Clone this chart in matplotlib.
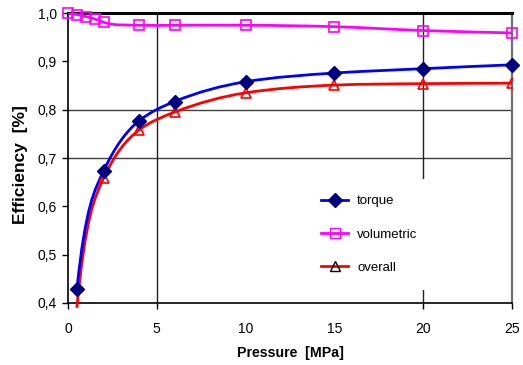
import numpy as np
import matplotlib
matplotlib.use('Agg')
import matplotlib.pyplot as plt
from matplotlib.path import Path
from matplotlib.patches import PathPatch
from matplotlib.lines import Line2D

plt.rcParams['font.family'] = ['Liberation Sans', 'DejaVu Sans']

# data
p_torque = [0.5, 2, 4, 6, 10, 15, 20, 25]
torque = [0.428, 0.673, 0.777, 0.817, 0.858, 0.876, 0.885, 0.893]

p_vol = [0, 0.5, 1, 1.5, 2, 4, 6, 10, 15, 20, 25]
volumetric = [1.0, 0.997, 0.993, 0.988, 0.981, 0.975, 0.975, 0.975, 0.972, 0.964, 0.959]

p_overall = [0.5, 2, 4, 6, 10, 15, 20, 25]
overall = [0.39, 0.658, 0.758, 0.795, 0.835, 0.851, 0.854, 0.855]

xticks = [0, 5, 10, 15, 20, 25]
yticks = [0.4, 0.5, 0.6, 0.7, 0.8, 0.9, 1.0]
ytick_labels = ['0,4', '0,5', '0,6', '0,7', '0,8', '0,9', '1,0']


def smooth_path(xs, ys, logx=True):
    # smoothed line drawn as cubic bezier (hermite) segments through the points
    xs = np.asarray(xs, float)
    ys = np.asarray(ys, float)
    if logx:
        m = np.gradient(ys, np.log(xs)) / xs
    else:
        m = np.gradient(ys, xs)
    verts = [(xs[0], ys[0])]
    codes = [Path.MOVETO]
    for i in range(len(xs) - 1):
        h = xs[i + 1] - xs[i]
        verts += [(xs[i] + h / 3, ys[i] + m[i] * h / 3),
                  (xs[i + 1] - h / 3, ys[i + 1] - m[i + 1] * h / 3),
                  (xs[i + 1], ys[i + 1])]
        codes += [Path.CURVE4] * 3
    return Path(verts, codes)


fig = plt.figure(figsize=(5.23, 3.65), dpi=100)
ax = fig.add_axes([0.130, 0.170, 0.849, 0.794])

ax.set_xlim(0, 25)
ax.set_ylim(0.4, 1.0)

# grid pieces like the original
ax.axhline(0.7, color='#404040', lw=1.0, zorder=1)
ax.axhline(0.8, color='#404040', lw=1.0, zorder=1)
ax.axvline(5, color='#202020', lw=1.0, zorder=1)
ax.axvline(20, color='#202020', lw=1.0, zorder=1)

ax.add_patch(PathPatch(smooth_path(p_vol, volumetric, logx=False), fc='none', ec='#ff00ff', lw=2.0, zorder=3))
ax.add_patch(PathPatch(smooth_path(p_overall, overall), fc='none', ec='red', lw=2.0, zorder=3, clip_on=False))
ax.add_patch(PathPatch(smooth_path(p_torque, torque), fc='none', ec='blue', lw=2.0, zorder=4))

ax.plot(p_vol, volumetric, ls='none', marker='s', ms=7, mfc='none', mec='#ff00ff', mew=1.2, zorder=5, clip_on=False)
ax.plot(p_overall, overall, ls='none', marker='^', ms=7, mfc='none', mec='red', mew=1.2, zorder=5)
ax.plot(p_torque, torque, ls='none', marker='D', ms=7, mfc='#000080', mec='#000080', zorder=6, clip_on=False)

ax.set_xticks(xticks)
ax.set_xticklabels([str(t) for t in xticks])
ax.set_yticks(yticks)
ax.set_yticklabels(ytick_labels)
ax.tick_params(direction='out', length=4, width=1, labelsize=10, colors='black')
ax.tick_params(axis='x', pad=10)
ax.tick_params(axis='y', pad=4)
for i in (2, 3):
    ax.xaxis.get_major_ticks()[i].tick1line.set_visible(False)

for s in ['left', 'bottom']:
    ax.spines[s].set_linewidth(1.2)
ax.spines['top'].set_linewidth(2.2)
ax.spines['right'].set_color('#707070')
ax.spines['right'].set_linewidth(1.6)

ax.set_xlabel('Pressure  [MPa]', fontsize=10.2, fontweight='bold', labelpad=7)
ax.set_ylabel('Efficiency  [%]', fontsize=12.5, fontweight='bold')
ax.yaxis.set_label_coords(-0.09, 0.476)

handles = [
    Line2D([], [], color='blue', lw=2, marker='D', ms=7, mfc='#000080', mec='#000080'),
    Line2D([], [], color='#ff00ff', lw=2, marker='s', ms=7, mfc='none', mec='#ff00ff'),
    Line2D([], [], color='red', lw=2, marker='^', ms=7, mfc='none', mec='black'),
]
leg = ax.legend(handles, ['torque', 'volumetric', 'overall'], loc='center left',
                bbox_to_anchor=(0.535, 0.236), fontsize=9.5, frameon=True,
                facecolor='white', edgecolor='none', framealpha=1, fancybox=False,
                labelspacing=1.6, handlelength=2.0, handletextpad=0.7,
                borderpad=1.2, borderaxespad=0)
leg.set_zorder(7)

fig.savefig('out.png', dpi=100)
